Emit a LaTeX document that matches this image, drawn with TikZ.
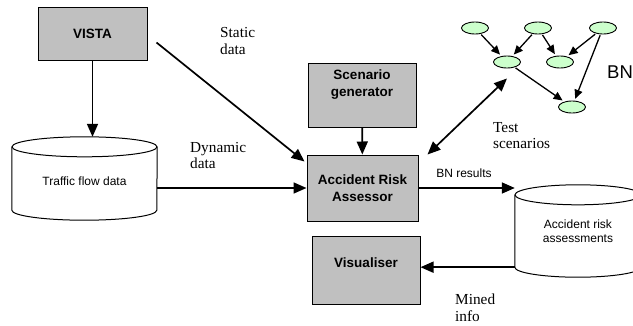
\documentclass[tikz,border=0pt]{standalone}
\usepackage{fontspec}
\setmainfont{Liberation Serif}
\setsansfont{Liberation Sans}
\usepackage{tikz}
\usetikzlibrary{arrows.meta, shapes.geometric, positioning}
\definecolor{BoxGray}{RGB}{192,192,192}
\definecolor{BNGreen}{RGB}{204,255,204}

\begin{document}
\begin{tikzpicture}[x=1pt,y=-1pt,
	box/.style={rectangle,draw,line width=1pt,fill=BoxGray,inner sep=0pt,align=center,
		font=\sffamily\bfseries\fontsize{13.5}{17}\selectfont},
	boxtext/.style={inner sep=0pt,align=center,font=\sffamily\bfseries\fontsize{13.5}{17}\selectfont},
	store/.style={rectangle,inner sep=0pt,align=center,font=\sffamily\fontsize{12}{14}\selectfont},
	bnnode/.style={ellipse,draw,line width=0.9pt,fill=BNGreen,minimum width=27pt,minimum height=12pt,inner sep=0pt},
	lbl/.style={anchor=north west,inner sep=0pt,align=left,font=\rmfamily\fontsize{15.3}{16.5}\selectfont},
	arr/.style={-{Triangle[length=13pt,width=11pt]},line width=1.7pt},
	dblarr/.style={{Triangle[length=13pt,width=11pt]}-{Triangle[length=13pt,width=11pt]},line width=1.7pt},
	bnarr/.style={-{Triangle[length=9pt,width=8pt]},line width=1.3pt,shorten <=1pt,shorten >=2pt}]
\useasboundingbox (0,0) rectangle (633,325);
\clip (0,0) rectangle (633,325);
% boxes
\node[box,minimum width=109pt,minimum height=53pt] (vista) at (92.5,33.5) {VISTA};
\node[box,minimum width=108pt,minimum height=64pt,
	label={[boxtext,yshift=10pt]center:Scenario\\generator}] (scen) at (362,95) {};
\node[box,minimum width=111pt,minimum height=66pt] (ara) at (362.5,188) {Accident Risk\\Assessor};
\node[box,minimum width=108pt,minimum height=68pt,
	label={[boxtext,yshift=7pt]center:Visualiser}] (vis) at (366,270) {};
% data stores
\node[store,minimum width=145pt,minimum height=63pt,text height=15pt] (flow) at (84.5,178.5) {Traffic flow data};
\draw[line width=1pt] (flow.north west) -- (flow.south west)
	arc[start angle=180,end angle=360,x radius=72.5pt,y radius=10pt] -- (flow.north east);
\draw[line width=1pt] (flow.north) ellipse[x radius=72.5pt,y radius=10pt];
\coordinate (flowtop) at ([yshift=10pt]flow.north);
\node[store,minimum width=126pt,minimum height=72pt] (risk) at (578,231) {Accident risk\\assessments};
\draw[line width=1pt] (risk.north west) -- (risk.south west)
	arc[start angle=180,end angle=360,x radius=63pt,y radius=10pt] -- (risk.north east);
\draw[line width=1pt] (risk.north) ellipse[x radius=63pt,y radius=10pt];
% BN
\foreach \i/\x/\y in {1/475/28,2/538/28,3/603/28,4/507/62,5/560/62,6/572/107}\node[bnnode] (bn\i) at (\x,\y){};
\foreach \a/\b in {1/4,2/4,2/5,3/5,3/6,4/6}\draw[bnarr] (bn\a)--(bn\b);
\node[anchor=west,inner sep=0pt,font=\sffamily\fontsize{18.5}{22}\selectfont] (bnlbl) at (607,72) {BN};
% labels
\node[lbl] (static) at (220,27.5) {Static\\data};
\node[lbl] (dynamic) at (190,142) {Dynamic\\data};
\node[lbl] (test) at (493,122) {Test\\scenarios};
\node[lbl] (mined) at (455,294) {Mined\\info};
\node[font=\sffamily\fontsize{12}{14}\selectfont] (bnres) at (464,173) {BN results};
% flows
\draw[arr] (vista.south) -- (vista.south |- flowtop);
\draw[arr] ([shift={(9pt,-9pt)}]vista.east) -- ([shift={(-2pt,-7pt)}]ara.north west);
\draw[arr] (flow.east |- ara.west) -- (ara.west);
\draw[arr] (scen) -- (ara);
\draw[dblarr] ([xshift=9pt]ara.north east) -- ([yshift=-10pt]bn4.south);
\draw[arr] (ara.east) -- (ara.east -| risk.west);
\draw[arr] (risk.south west) -- (risk.south west -| vis.east);
\end{tikzpicture}
\end{document}
